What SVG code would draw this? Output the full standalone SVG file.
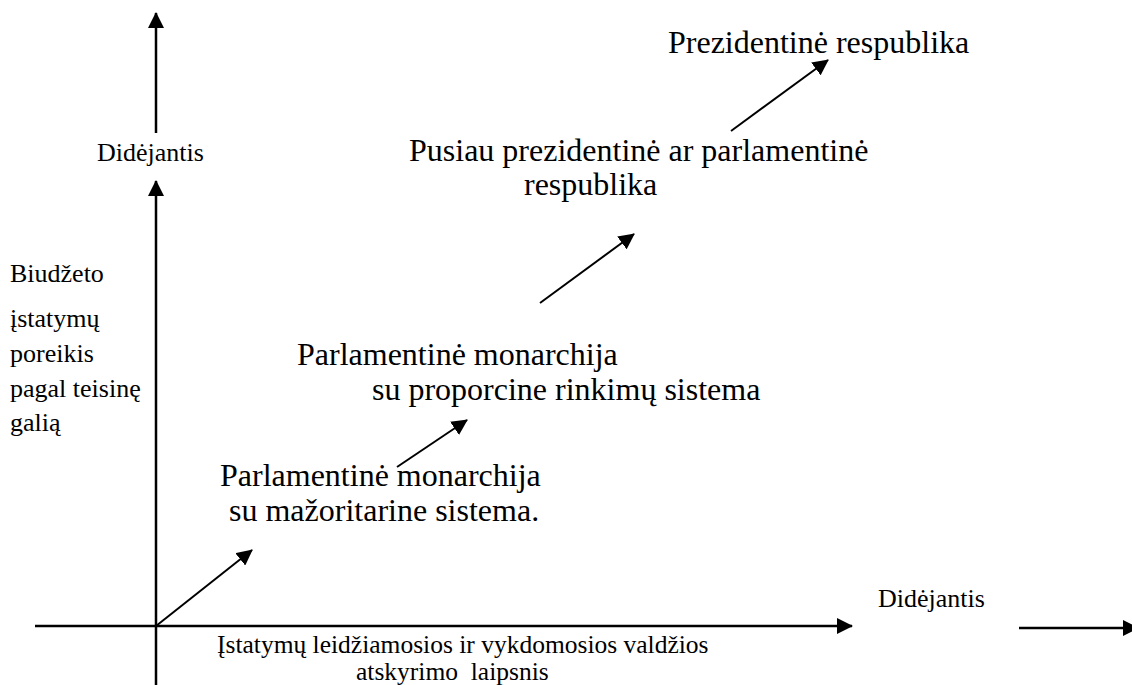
<svg xmlns="http://www.w3.org/2000/svg" width="1132" height="685" viewBox="0 0 1132 685">
  <defs>
    <marker id="ah" markerUnits="userSpaceOnUse" markerWidth="16" markerHeight="16" viewBox="0 0 16 16" refX="15" refY="8" orient="auto">
      <path d="M0,0 L16,8 L0,16 Z" fill="#000"/>
    </marker>
    <style>
      .t { font-family: "Liberation Serif", "Times New Roman", serif; fill: #000; }
      .s { font-size: 26px; }
      .x { font-size: 25.5px; }
      .b { font-size: 32px; }
      .axis { stroke: #000; stroke-width: 2.5; fill: none; }
      .diag { stroke: #000; stroke-width: 2; fill: none; }
    </style>
  </defs>
  <rect width="1132" height="685" fill="#fff"/>

  <g id="connectors">
    <line class="axis" x1="156" y1="133" x2="156" y2="13" marker-end="url(#ah)"/>
    <line class="axis" x1="156" y1="685" x2="156" y2="181" marker-end="url(#ah)"/>
    <line class="axis" x1="35" y1="626" x2="852" y2="626" marker-end="url(#ah)"/>
    <line class="axis" x1="1019" y1="628" x2="1138" y2="628" marker-end="url(#ah)"/>
    <line class="diag" x1="156" y1="626" x2="252" y2="550" marker-end="url(#ah)"/>
    <line class="diag" x1="397" y1="467" x2="467" y2="420" marker-end="url(#ah)"/>
    <line class="diag" x1="540" y1="303" x2="634" y2="234" marker-end="url(#ah)"/>
    <line class="diag" x1="731" y1="131" x2="828" y2="60" marker-end="url(#ah)"/>
  </g>

  <g id="label-didejantis-y">
    <text class="t s" x="97" y="161">Didėjantis</text>
  </g>
  <g id="label-y-axis">
    <text class="t s" x="10" y="282">Biudžeto</text>
    <text class="t s" x="10" y="327">įstatymų</text>
    <text class="t s" x="10" y="362">poreikis</text>
    <text class="t s" x="10" y="397">pagal teisinę</text>
    <text class="t s" x="10" y="431">galią</text>
  </g>
  <g id="node-prezidentine">
    <text class="t b" x="668" y="53">Prezidentinė respublika</text>
  </g>
  <g id="node-pusiau">
    <text class="t b" x="409" y="161">Pusiau prezidentinė ar parlamentinė</text>
    <text class="t b" x="524" y="195">respublika</text>
  </g>
  <g id="node-proporcine">
    <text class="t b" x="297" y="365">Parlamentinė monarchija</text>
    <text class="t b" x="372" y="400">su proporcine rinkimų sistema</text>
  </g>
  <g id="node-mazoritarine">
    <text class="t b" x="220" y="486">Parlamentinė monarchija</text>
    <text class="t b" x="229" y="521">su mažoritarine sistema.</text>
  </g>
  <g id="label-x-axis">
    <text class="t x" x="217" y="653">Įstatymų leidžiamosios ir vykdomosios valdžios</text>
    <text class="t x" x="356" y="680" xml:space="preserve">atskyrimo  laipsnis</text>
  </g>
  <g id="label-didejantis-x">
    <text class="t s" x="878" y="607">Didėjantis</text>
  </g>
</svg>
